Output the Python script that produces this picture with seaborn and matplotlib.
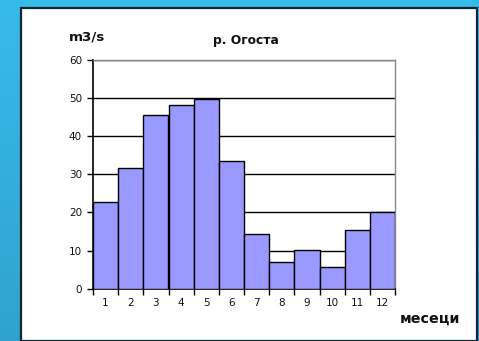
import numpy as np
import pandas as pd
import matplotlib
matplotlib.use("Agg")
import matplotlib.pyplot as plt
from matplotlib.patches import Rectangle
from matplotlib.colors import LinearSegmentedColormap
import seaborn as sns

# Mean monthly discharge of the Ogosta river
months = ["1", "2", "3", "4", "5", "6", "7", "8", "9", "10", "11", "12"]
discharge = [22.7, 31.6, 45.7, 48.3, 49.8, 33.5, 14.3, 6.9, 10.1, 5.8, 15.5, 20.1]
y_ticks = [0, 10, 20, 30, 40, 50, 60]

title = "р. Огоста"
y_label = "m3/s"
x_label = "месеци"

sns.set_theme(style="white")
plt.rcParams["font.family"] = ["DejaVu Sans"]

W, H = 479, 341
fig = plt.figure(figsize=(W / 100, H / 100), dpi=100)

# blue gradient backdrop
bg = fig.add_axes([0, 0, 1, 1], zorder=-10)
bg.set_axis_off()
cmap = LinearSegmentedColormap.from_list("bg", ["#37BBEA", "#30A2D0"])
grad = np.linspace(0, 1, 256).reshape(-1, 1)
bg.imshow(grad, aspect="auto", cmap=cmap, extent=[0, 1, 0, 1], origin="upper")
bg.set_xlim(0, 1)
bg.set_ylim(0, 1)

# white panel with dark frame
bg.add_patch(Rectangle((20.8 / W, 0), (476.5 - 20.8) / W, (H - 7.5) / H,
                       facecolor="white", edgecolor="#0B2533", linewidth=1.6,
                       transform=bg.transAxes))

ax = fig.add_axes([93 / W, 52.3 / H, 302 / W, 228.7 / H])
df = pd.DataFrame({"month": months, "q": discharge})
sns.barplot(data=df, x="month", y="q", order=months, color="#9999FF",
            saturation=1, width=1.0, edgecolor="black", linewidth=1.0, ax=ax,
            zorder=3)

ax.set_xlim(-0.5, len(months) - 0.5)
ax.set_ylim(0, 60)
ax.set_yticks(y_ticks)
ax.set_yticklabels([str(v) for v in y_ticks], fontsize=7.5, color="#111111")
ax.yaxis.grid(True, color="black", linewidth=1.0, zorder=0)
ax.set_axisbelow(True)

# tick marks on bar edges, labels on bar centres
ax.set_xticks(np.arange(-0.5, len(months), 1.0))
ax.set_xticklabels([])
ax.set_xticks(np.arange(len(months)), minor=True)
ax.set_xticklabels(months, minor=True, fontsize=7.5, color="#111111")
ax.tick_params(axis="x", which="major", direction="out", length=4, width=1,
               color="black", bottom=True)
ax.tick_params(axis="x", which="minor", length=0, pad=7)
ax.tick_params(axis="y", direction="out", length=4, width=1, color="black",
               left=True, pad=4)

ax.set_xlabel("")
ax.set_ylabel("")
for side in ["left", "bottom"]:
    ax.spines[side].set_color("black")
    ax.spines[side].set_linewidth(1.2)
for side in ["top", "right"]:
    ax.spines[side].set_color("#888888")
    ax.spines[side].set_linewidth(1.0)
    ax.spines[side].set_visible(True)

fig.text(245.5 / W, 1 - 40.5 / H, title, ha="center", va="center",
         fontsize=8.8, fontweight="bold", color="#111111")
fig.text(69 / W, 1 - 36.5 / H, y_label, ha="left", va="center",
         fontsize=9.6, fontweight="bold", color="#111111")
fig.text(400 / W, 1 - 318.5 / H, x_label, ha="left", va="center",
         fontsize=10.3, fontweight="bold", color="#111111")

fig.savefig("out.png", dpi=100)
